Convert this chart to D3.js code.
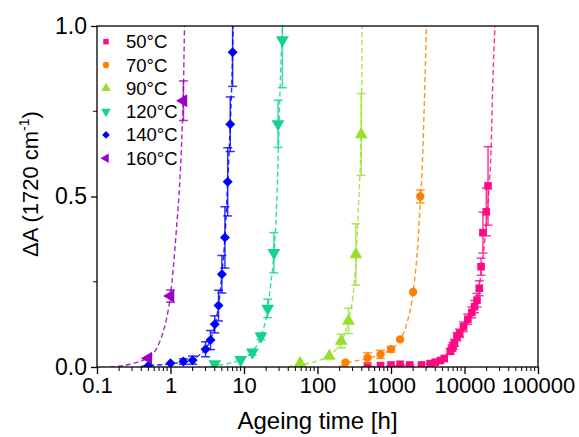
<!DOCTYPE html>
<html><head><meta charset="utf-8">
<script src="https://cdn.jsdelivr.net/npm/d3@7"></script>
<style>body{margin:0;background:#fff}svg{font-family:"Liberation Sans",Arial,sans-serif}</style>
</head><body><svg id="c" width="579" height="437"></svg>
<script>
// ---- data ----
const seriesNames = ["50°C","70°C","90°C","120°C","140°C","160°C"];
const seriesColors = ["#FF0A85","#FF8000","#99E02E","#14D48C","#0000FF","#9B00C8"];

const t50 = [480,720,1000,1330,1800,2600,3400,4000,4700,5300,6400,6750,7000,7300,7900,8600,9700,11100,12600,13700,14800,15900,16800,17800,19800,20900];
const v50 = [0.004,0.004,0.006,0.008,0.006,0.006,0.010,0.014,0.019,0.025,0.046,0.055,0.062,0.071,0.089,0.099,0.118,0.140,0.160,0.177,0.196,0.231,0.294,0.394,0.455,0.531];
const e50 = [0.003,0.003,0.003,0.003,0.003,0.003,0.004,0.005,0.006,0.007,0.008,0.009,0.010,0.010,0.012,0.012,0.014,0.015,0.016,0.018,0.020,0.022,0.025,0.060,0.070,0.115];

const t70 = [240,480,720,1000,1330,2000,2500];
const v70 = [0.013,0.027,0.037,0.052,0.081,0.220,0.500];
const e70 = [0.004,0.015,0.012,0.008,0.006,0.006,0.019];

const t90 = [58,145,210,264,333,393];
const v90 = [0.011,0.032,0.076,0.135,0.330,0.682];
const e90 = [0.004,0.006,0.020,0.037,0.090,0.120];

const t120 = [4,9,13,17,21,25.5,29,33.3];
const v120 = [0.009,0.021,0.043,0.090,0.172,0.335,0.713,0.959];
const e120 = [0.004,0.006,0.008,0.010,0.027,0.059,0.069,0.140];

const t140 = [0.5,1,1.5,2,3,3.5,4,4.5,5,5.5,6,6.5,7];
const v140 = [0.004,0.011,0.016,0.020,0.052,0.079,0.125,0.180,0.272,0.380,0.543,0.712,0.923];
const e140 = [0.004,0.005,0.008,0.012,0.022,0.028,0.025,0.045,0.055,0.090,0.100,0.080,0.100];

const t160 = [0.5,1,1.5];
const v160 = [0.026,0.208,0.781];
const e160 = [0.006,0.018,0.058];

// fitted (dashed) curves
const f50t = [400,1500,3000,4500,5500,7000,8500,10000,12000,14000,16000,18000,20000,21500,23000,24300,26000];
const f50v = [0.001,0.005,0.009,0.017,0.030,0.060,0.095,0.120,0.150,0.185,0.240,0.330,0.430,0.520,0.640,0.840,1.0];
const f70t = [200,240,480,720,1000,1330,1600,2000,2300,2500,2640,2830,3030];
const f70v = [0.002,0.010,0.025,0.037,0.052,0.080,0.120,0.220,0.350,0.480,0.570,0.760,1.0];
const f90t = [40,58,100,145,210,264,300,333,354,375,393,405];
const f90v = [0.001,0.006,0.018,0.034,0.075,0.135,0.200,0.310,0.430,0.550,0.690,1.0];
const f120t = [3.5,4,6,9,13,17,21,23,25.5,27.5,29.3,31,33.5];
const f120v = [0.002,0.004,0.010,0.022,0.045,0.090,0.170,0.240,0.330,0.450,0.630,0.820,1.0];
const f140t = [0.4,0.5,1,1.5,2,2.5,3,3.5,4,4.5,5,5.5,6,6.5,7,7.1];
const f140v = [0.002,0.004,0.009,0.015,0.022,0.036,0.052,0.080,0.120,0.180,0.270,0.380,0.540,0.710,0.930,1.0];
const f160t = [0.15,0.2,0.28,0.4,0.5,0.65,0.8,0.9,1.0,1.1,1.2,1.3,1.4,1.5,1.55];
const f160v = [0.0,0.002,0.008,0.018,0.028,0.055,0.105,0.150,0.210,0.300,0.400,0.500,0.630,0.820,1.0];

const xTicks = [0.1,1,10,100,1000,10000,100000];
const xTickLabels = ["0.1","1","10","100","1000","10000","100000"];
const yTicks = [0,0.5,1.0];
const yTickLabels = ["0.0","0.5","1.0"];

// ---- build ----
const T = [t50,t70,t90,t120,t140,t160], V=[v50,v70,v90,v120,v140,v160], E=[e50,e70,e90,e120,e140,e160];
const FT = [f50t,f70t,f90t,f120t,f140t,f160t], FV=[f50v,f70v,f90v,f120v,f140v,f160v];
const shapes = [
  {s:d3.symbolSquare, r:0, size:58},
  {s:d3.symbolCircle, r:0, size:55},
  {s:d3.symbolTriangle, r:0, size:72},
  {s:d3.symbolTriangle, r:180, size:72},
  {s:d3.symbolSquare, r:45, size:50},
  {s:d3.symbolTriangle, r:-90, size:72}
];
const legendSizes = [30,32,40,40,30,40];

const L=97,R=538,Tp=26,B=367;
const x = d3.scaleLog().domain([0.1,100000]).range([L,R]);
const y = d3.scaleLinear().domain([0,1]).range([B,Tp]);
const svg = d3.select("#c");
const FONT = "Liberation Sans, Arial, sans-serif";

svg.append("defs").append("clipPath").attr("id","clip")
  .append("rect").attr("x",L).attr("y",Tp).attr("width",R-L).attr("height",B-Tp);

const plot = svg.append("g").attr("clip-path","url(#clip)");
const line = d3.line().x(d=>x(d[0])).y(d=>y(d[1])).curve(d3.curveMonotoneX);

// dashed fits
FT.forEach((ft,i)=>{
  plot.append("path").datum(ft.map((t,j)=>[t,FV[i][j]]))
    .attr("d",line).attr("fill","none").attr("stroke",seriesColors[i])
    .attr("stroke-width",1.4).attr("stroke-dasharray","5,3").attr("opacity",0.85);
});

// error bars & markers
T.forEach((ts,i)=>{
  const g = plot.append("g");
  const col = seriesColors[i];
  ts.forEach((t,j)=>{
    const cx=x(t), v=V[i][j], e=E[i][j];
    const y1=y(v+e), y2=y(v-e);
    g.append("line").attr("x1",cx).attr("x2",cx).attr("y1",y1).attr("y2",y2)
      .attr("stroke",col).attr("stroke-width",1.5).attr("opacity",0.8);
    if (y2-y1>5){
      [y1,y2].forEach(yy=>g.append("line").attr("x1",cx-4.5).attr("x2",cx+4.5)
        .attr("y1",yy).attr("y2",yy).attr("stroke",col).attr("stroke-width",1.5).attr("opacity",0.8));
    }
  });
  const sh = shapes[i];
  const sym = d3.symbol().type(sh.s).size(sh.size);
  ts.forEach((t,j)=>{
    g.append("path").attr("d",sym)
      .attr("transform",`translate(${x(t)},${y(V[i][j])}) rotate(${sh.r})`)
      .attr("fill",col);
  });
});

// frame
svg.append("rect").attr("x",L).attr("y",Tp).attr("width",R-L).attr("height",B-Tp)
  .attr("fill","none").attr("stroke","#000").attr("stroke-width",1.3);

// x axis
const xAxis = d3.axisBottom(x).tickValues(xTicks).tickFormat((d,i)=>xTickLabels[i]).tickSize(7).tickPadding(3);
const gx = svg.append("g").attr("transform",`translate(0,${B})`).call(xAxis);
gx.select(".domain").remove();
gx.selectAll("line").attr("stroke-width",1.3);
gx.selectAll("text").attr("font-size",22).attr("fill","#000").attr("font-family",FONT);
// minor ticks
const minor = [];
for (let d=0.1; d<100000; d*=10) for (let k=2;k<10;k++) minor.push(d*k);
svg.append("g").selectAll("line").data(minor).join("line")
  .attr("x1",d=>x(d)).attr("x2",d=>x(d)).attr("y1",B).attr("y2",B+4)
  .attr("stroke","#000").attr("stroke-width",1);

// y axis
const yAxis = d3.axisLeft(y).tickValues(yTicks).tickFormat((d,i)=>yTickLabels[i]).tickSize(6).tickPadding(4);
const gy = svg.append("g").attr("transform",`translate(${L},0)`).call(yAxis);
gy.select(".domain").remove();
gy.selectAll("line").attr("stroke-width",1.3);
gy.selectAll("text").attr("font-size",23).attr("fill","#000").attr("font-family",FONT);
svg.append("g").selectAll("line").data([0.25,0.75]).join("line")
  .attr("x1",L-4).attr("x2",L).attr("y1",d=>y(d)).attr("y2",d=>y(d))
  .attr("stroke","#000").attr("stroke-width",1);

// axis titles
svg.append("text").attr("x",(L+R)/2).attr("y",429).attr("text-anchor","middle")
  .attr("font-size",24).attr("font-family",FONT).text("Ageing time [h]");
const yt = svg.append("text").attr("transform","translate(38,184) rotate(-90)")
  .attr("text-anchor","middle").attr("font-size",22).attr("font-family",FONT);
yt.append("tspan").text("ΔA (1720 cm");
yt.append("tspan").attr("font-size",14).attr("dy",-9).text("-1");
yt.append("tspan").attr("dy",9).text(")");

// legend
const legY0 = 41.7, legDy = 23.3;
seriesNames.forEach((n,i)=>{
  const cy = legY0 + i*legDy;
  const sh = shapes[i];
  svg.append("path").attr("d",d3.symbol().type(sh.s).size(legendSizes[i]))
    .attr("transform",`translate(106,${cy}) rotate(${sh.r})`).attr("fill",seriesColors[i]);
  svg.append("text").attr("x",126).attr("y",cy+6.5).attr("font-size",18.5)
    .attr("font-family",FONT).text(n);
});
</script></body></html>
